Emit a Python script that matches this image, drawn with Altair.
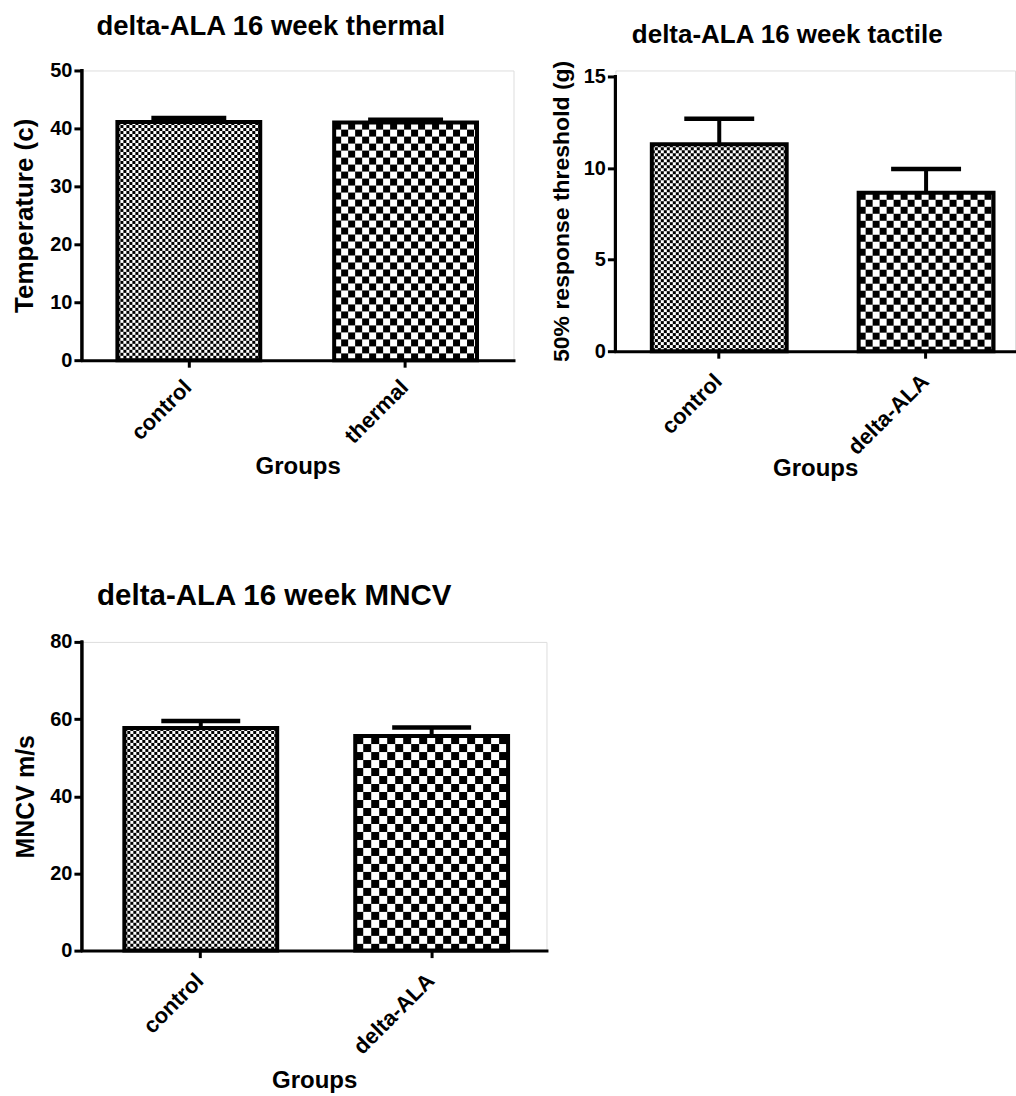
import base64

import altair as alt
import pandas as pd

# Thermal threshold, 16 weeks (degrees C): mean and SEM per group
thermal_groups = ["control", "thermal"]
thermal_mean = [41.1, 41.0]
thermal_sem = [0.7, 0.5]

# Tactile 50% response threshold, 16 weeks (g)
tactile_groups = ["control", "delta-ALA"]
tactile_mean = [11.3, 8.65]
tactile_sem = [1.4, 1.3]

# Motor nerve conduction velocity, 16 weeks (m/s)
mncv_groups = ["control", "delta-ALA"]
mncv_mean = [57.7, 55.6]
mncv_sem = [1.8, 2.2]

FONT = "Liberation Sans"


def checker(cell):
    """Black/white checkerboard texture as an SVG data URI (tiles at 1:1 pixels)."""
    s = 2 * cell
    svg = (
        '<svg xmlns="http://www.w3.org/2000/svg" width="100%" height="100%">'
        f'<defs><pattern id="c" width="{s}" height="{s}" patternUnits="userSpaceOnUse">'
        f'<rect width="{s}" height="{s}" fill="#fff"/>'
        f'<rect width="{cell}" height="{cell}" fill="#000"/>'
        f'<rect x="{cell}" y="{cell}" width="{cell}" height="{cell}" fill="#000"/>'
        '</pattern></defs><rect width="100%" height="100%" fill="url(#c)"/></svg>'
    )
    return "data:image/svg+xml;base64," + base64.b64encode(svg.encode()).decode()


def panel(groups, means, sems, *, title, title_size, title_dx, title_dy,
          y_title, y_title_size, y_domain, y_ticks, y_top, width, height, band,
          title_x, label_pad, groups_y, cap, textures):
    df = pd.DataFrame({"group": groups, "mean": means, "sem": sems})
    df["top"] = df["mean"] + df["sem"]
    pad_inner, pad_outer, align = band

    x = alt.X(
        "group:N", sort=groups,
        scale=alt.Scale(paddingInner=pad_inner, paddingOuter=pad_outer, align=align),
        axis=alt.Axis(
            title="Groups", labelAngle=315, labelAlign="right", labelBaseline="top",
            labelPadding=label_pad, labelOffset=-8, labelFontSize=22, labelFont=FONT,
            labelFontWeight="bold", labelColor="black", tickSize=7, tickWidth=3,
            tickColor="black", domainWidth=3, domainColor="black", domainCap="square",
            titleFontSize=24, titleFont=FONT, titleFontWeight="bold", titleColor="black",
            titleY=groups_y, titleBaseline="middle",
        ),
    )
    yscale = alt.Scale(domain=y_domain, nice=False, zero=True)
    yaxis = alt.Axis(
        values=y_ticks, title=y_title, grid=False, domain=False,
        labelFontSize=20, labelFont=FONT, labelFontWeight="bold", labelColor="black",
        labelPadding=2, tickSize=8, tickWidth=3, tickColor="black",
        titleFontSize=y_title_size, titleFont=FONT, titleFontWeight="bold",
        titleColor="black", titleX=title_x, titleBaseline="middle",
    )
    y_mean = alt.Y("mean:Q", scale=yscale, axis=yaxis)

    base = alt.Chart(df)

    # checkered fills, one texture per group
    fills = [
        base.transform_filter(alt.datum.group == g)
        .mark_image(aspect=False)
        .encode(x=x, y=y_mean, y2=alt.datum(0), url=alt.value(tex))
        for g, tex in zip(groups, textures)
    ]
    # upper error bar stem
    stem = base.mark_rule(color="black", strokeWidth=4).encode(
        x=x, y=y_mean, y2="top:Q"
    )
    # bar outline
    outline = base.mark_bar(
        fill="transparent", stroke="black", strokeWidth=4, strokeJoin="miter"
    ).encode(x=x, y=y_mean)
    # error bar cap
    capline = base.mark_tick(
        color="black", size=cap, thickness=4.5, opacity=1
    ).encode(x=x, y=alt.Y("top:Q", scale=yscale, axis=yaxis))
    # y axis line, from 0 up to the top tick
    yline = base.mark_rule(color="black", strokeWidth=3, strokeCap="square").encode(
        x=alt.value(0), y=alt.datum(0), y2=alt.datum(y_top)
    )

    return alt.layer(*fills, stem, outline, capline, yline).properties(
        width=width,
        height=height,
        title=alt.TitleParams(
            text=title, fontSize=title_size, font=FONT, fontWeight="bold",
            color="black", dx=title_dx, dy=title_dy, offset=0, baseline="bottom",
            anchor="middle",
        ),
    )


fine = checker(3)
coarse = checker(7)
coarse_big = checker(8)

p_thermal = panel(
    thermal_groups, thermal_mean, thermal_sem,
    title="delta-ALA 16 week thermal", title_size=27.5, title_dx=-27, title_dy=8,
    y_title="Temperature (c)", y_title_size=26, y_domain=[0, 50],
    y_ticks=[0, 10, 20, 30, 40, 50], y_top=50,
    width=432, height=290, band=(0.341, 0.166, 0.493), title_x=-57,
    label_pad=9, groups_y=106, cap=75, textures=[fine, coarse],
)

p_tactile = panel(
    tactile_groups, tactile_mean, tactile_sem,
    title="delta-ALA 16 week tactile", title_size=26, title_dx=-28, title_dy=14,
    y_title="50% response threshold (g)", y_title_size=23, y_domain=[0, 15.33],
    y_ticks=[0, 5, 10, 15], y_top=15,
    width=400, height=281, band=(0.348, 0.140, 0.629), title_x=-54,
    label_pad=12, groups_y=117, cap=70, textures=[fine, coarse],
)

p_mncv = panel(
    mncv_groups, mncv_mean, mncv_sem,
    title="delta-ALA 16 week MNCV", title_size=29.5, title_dx=-40, title_dy=9,
    y_title="MNCV m/s", y_title_size=25, y_domain=[0, 80],
    y_ticks=[0, 20, 40, 60, 80], y_top=80,
    width=465, height=309, band=(0.338, 0.175, 0.525), title_x=-56,
    label_pad=12, groups_y=130, cap=79, textures=[fine, coarse_big],
)

chart = (
    alt.vconcat(alt.hconcat(p_thermal, p_tactile, spacing=35), p_mncv, spacing=100)
    .properties(padding={"left": 11, "top": 12, "right": 0, "bottom": 0})
    .configure_view(stroke=None)
    .configure(background="white")
)

chart.save("out.html", embed_options={"renderer": "svg", "actions": False})
